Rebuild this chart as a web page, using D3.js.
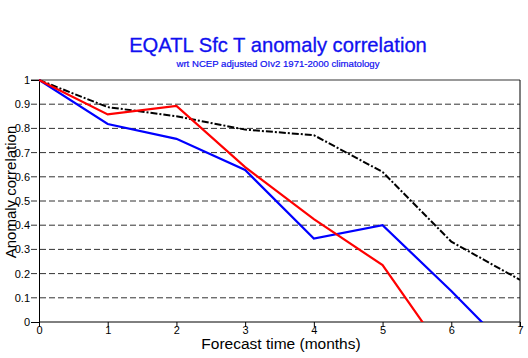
<!DOCTYPE html>
<html>
<head>
<meta charset="utf-8">
<script src="https://cdn.jsdelivr.net/npm/d3@7/dist/d3.min.js"></script>
<style>
  html, body { margin: 0; padding: 0; background: #fff; }
  svg { display: block; font-family: "Liberation Sans", Arial, sans-serif; }
</style>
</head>
<body>
<svg id="chart" width="528" height="358"></svg>
<script>
// Forecast lead time (months)
const months = [0, 1, 2, 3, 4, 5, 6, 7];

// Anomaly correlation per lead time for each model
const seriesRed   = [1.0, 0.858, 0.893, 0.64, 0.425, 0.235, -0.17, null];
const seriesBlue  = [1.0, 0.818, 0.757, 0.628, 0.345, 0.40, 0.128, -0.16];
const seriesBlack = [1.0, 0.888, 0.85, 0.795, 0.772, 0.62, 0.332, 0.174];

const yTicks = [0, 0.1, 0.2, 0.3, 0.4, 0.5, 0.6, 0.7, 0.8, 0.9, 1];
const xTicks = [0, 1, 2, 3, 4, 5, 6, 7];

const titleText = "EQATL Sfc T anomaly correlation";
const subtitleText = "wrt NCEP adjusted OIv2 1971-2000 climatology";
const xLabel = "Forecast time (months)";
const yLabel = "Anomaly correlation";

const svg = d3.select("#chart");
const plotLeft = 39, plotRight = 520, plotTop = 80, plotBottom = 322;

const x = d3.scaleLinear().domain([0, 7]).range([plotLeft, plotRight]);
const y = d3.scaleLinear().domain([0, 1]).range([plotBottom, plotTop]);

// Title and subtitle
svg.append("text").attr("x", 278).attr("y", 52)
  .attr("text-anchor", "middle").attr("font-size", 20.2).attr("fill", "#1010f0")
  .attr("stroke", "#1010f0").attr("stroke-width", 0.3)
  .text(titleText);
svg.append("text").attr("x", 278).attr("y", 67)
  .attr("text-anchor", "middle").attr("font-size", 9.6).attr("fill", "#1010f0")
  .attr("stroke", "#1010f0").attr("stroke-width", 0.2)
  .text(subtitleText);

// Horizontal grid lines (dashed inside, solid top)
svg.append("g").selectAll("line")
  .data(yTicks.filter(d => d > 0 && d < 1))
  .join("line")
  .attr("x1", 31).attr("x2", plotRight)
  .attr("y1", d => y(d)).attr("y2", d => y(d))
  .attr("stroke", "#333").attr("stroke-width", 1)
  .attr("stroke-dasharray", "6,3");
svg.append("line").attr("x1", 31).attr("x2", plotRight)
  .attr("y1", y(1)).attr("y2", y(1))
  .attr("stroke", "#777").attr("stroke-width", 1.3);

// Right border
svg.append("line").attr("x1", plotRight).attr("x2", plotRight)
  .attr("y1", plotTop).attr("y2", plotBottom + 5)
  .attr("stroke", "#000").attr("stroke-width", 1);

// Y axis
const yAxis = d3.axisLeft(y).tickValues(yTicks)
  .tickFormat(d => d === 0 || d === 1 ? String(d) : d3.format(".1f")(d))
  .tickSize(8).tickPadding(1);
const gy = svg.append("g").attr("transform", `translate(${plotLeft},0)`).call(yAxis);
gy.select(".domain").attr("stroke", "#000");
gy.selectAll(".tick line").attr("stroke", d => (d === 0 || d === 1) ? "#000" : "none");
gy.selectAll(".tick text").attr("font-size", 11).attr("fill", "#000")
  .attr("font-family", "Liberation Sans, Arial, sans-serif");

// X axis
const xAxis = d3.axisBottom(x).tickValues(xTicks).tickFormat(d3.format("d"))
  .tickSize(5).tickPadding(-1);
const gx = svg.append("g").attr("transform", `translate(0,${plotBottom})`).call(xAxis);
gx.select(".domain").attr("stroke", "#000").attr("d", `M${plotLeft},0H${plotRight}`);
gx.selectAll(".tick line").attr("stroke", "#000");
gx.selectAll(".tick text").attr("font-size", 11).attr("fill", "#000")
  .attr("font-family", "Liberation Sans, Arial, sans-serif");

// Axis titles
svg.append("text").attr("x", 281).attr("y", 349)
  .attr("text-anchor", "middle").attr("font-size", 15.5).attr("fill", "#000")
  .text(xLabel);
svg.append("text")
  .attr("transform", `translate(16,${192}) rotate(-90)`)
  .attr("text-anchor", "middle").attr("font-size", 15).attr("fill", "#000")
  .text(yLabel);

// Clip the lines to the plot area
svg.append("clipPath").attr("id", "plotClip")
  .append("rect").attr("x", plotLeft).attr("y", plotTop - 2)
  .attr("width", plotRight - plotLeft).attr("height", plotBottom - plotTop + 2);

const line = d3.line()
  .defined(d => d[1] !== null)
  .x(d => x(d[0])).y(d => y(d[1]));

const lines = svg.append("g").attr("clip-path", "url(#plotClip)");

lines.append("path")
  .datum(months.map((m, i) => [m, seriesBlack[i]]))
  .attr("d", line).attr("fill", "none")
  .attr("stroke", "#000").attr("stroke-width", 2)
  .attr("stroke-dasharray", "7,2,2,2");

lines.append("path")
  .datum(months.map((m, i) => [m, seriesBlue[i]]))
  .attr("d", line).attr("fill", "none")
  .attr("stroke", "#0000ff").attr("stroke-width", 2.2);

lines.append("path")
  .datum(months.map((m, i) => [m, seriesRed[i]]))
  .attr("d", line).attr("fill", "none")
  .attr("stroke", "#ff0000").attr("stroke-width", 2.2);
</script>
</body>
</html>
